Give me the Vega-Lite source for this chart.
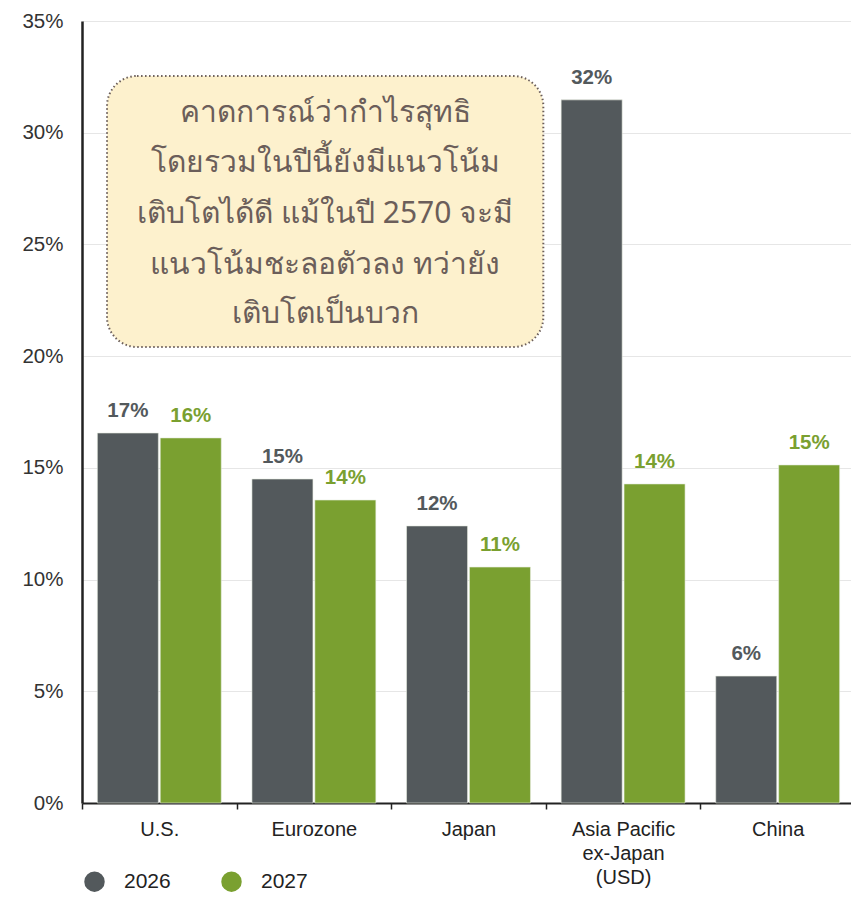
{
  "$schema": "https://vega.github.io/schema/vega-lite/v6.json",
  "autosize": {"type": "none"},
  "width": 773,
  "height": 782,
  "padding": {"left": 82, "top": 21, "right": 0, "bottom": 98},
  "background": "white",
  "config": {"view": {"stroke": null}, "font": "Liberation Sans"},
  "datasets": {
    "bars": [
      {"region": "U.S.", "year": "2026", "value": 16.56, "label": "17%"},
      {"region": "U.S.", "year": "2027", "value": 16.34, "label": "16%"},
      {"region": "Eurozone", "year": "2026", "value": 14.5, "label": "15%"},
      {"region": "Eurozone", "year": "2027", "value": 13.56, "label": "14%"},
      {"region": "Japan", "year": "2026", "value": 12.4, "label": "12%"},
      {"region": "Japan", "year": "2027", "value": 10.56, "label": "11%"},
      {"region": "Asia Pacific|ex-Japan|(USD)", "year": "2026", "value": 31.47, "label": "32%"},
      {"region": "Asia Pacific|ex-Japan|(USD)", "year": "2027", "value": 14.28, "label": "14%"},
      {"region": "China", "year": "2026", "value": 5.68, "label": "6%"},
      {"region": "China", "year": "2027", "value": 15.13, "label": "15%"}
    ],
    "box": [{"x1": 0.162, "x2": 2.984, "y1": 20.41, "y2": 32.54}],
    "lines": [
      {"xc": 1.573, "y": 30.89, "t": "คาดการณ์ว่ากำไรสุทธิ"},
      {"xc": 1.573, "y": 28.65, "t": "โดยรวมในปีนี้ยังมีแนวโน้ม"},
      {"xc": 1.573, "y": 26.37, "t": "เติบโตได้ดี แม้ในปี 2570 จะมี"},
      {"xc": 1.573, "y": 24.08, "t": "แนวโน้มชะลอตัวลง ทว่ายัง"},
      {"xc": 1.573, "y": 21.89, "t": "เติบโตเป็นบวก"}
    ]
  },
  "layer": [
    {
      "data": {"name": "bars"},
      "layer": [
        {
          "mark": {"type": "bar", "stroke": "#e8ece0", "strokeWidth": 0.6},
          "encoding": {
            "x": {
              "field": "region", "type": "nominal", "sort": null,
              "scale": {"paddingInner": 0, "paddingOuter": 0},
              "axis": {
                "title": null, "labelAngle": 0, "tickBand": "extent",
                "labelExpr": "split(datum.label, '|')",
                "labelFontSize": 20, "labelColor": "#222222", "labelLineHeight": 24,
                "labelPadding": 10, "tickSize": 6, "tickColor": "#222222", "tickWidth": 1.5,
                "domainColor": "#222222", "domainWidth": 2, "labelBaseline": "top"
              }
            },
            "xOffset": {"field": "year", "type": "nominal", "scale": {"paddingInner": 0.03, "paddingOuter": 0.244}},
            "y": {
              "field": "value", "type": "quantitative",
              "scale": {"domain": [0, 35], "nice": false},
              "axis": {
                "title": null, "values": [0, 5, 10, 15, 20, 25, 30, 35],
                "labelExpr": "datum.value + '%'", "labelFontSize": 20.5, "labelColor": "#333333",
                "labelPadding": 19, "ticks": false, "domainColor": "#222222", "domainWidth": 2.5,
                "gridColor": "#e6e6e6", "gridWidth": 1.2
              }
            },
            "color": {
              "field": "year", "type": "nominal",
              "scale": {"domain": ["2026", "2027"], "range": ["#53595c", "#7aa030"]},
              "legend": {
                "title": null, "orient": "none", "legendX": 2, "legendY": 850,
                "direction": "horizontal", "symbolType": "circle", "symbolSize": 420,
                "symbolStrokeWidth": 0, "labelFontSize": 21, "labelColor": "#222222",
                "columnPadding": 50, "labelOffset": 19
              }
            }
          }
        },
        {
          "mark": {"type": "text", "fontSize": 20.5, "fontWeight": "bold", "baseline": "bottom", "dy": -12},
          "encoding": {
            "x": {"field": "region", "type": "nominal", "sort": null},
            "xOffset": {"field": "year", "type": "nominal"},
            "y": {"field": "value", "type": "quantitative"},
            "text": {"field": "label"},
            "color": {"field": "year", "type": "nominal", "scale": {"domain": ["2026", "2027"], "range": ["#6a6e71", "#7aa030"]}, "legend": null}
          }
        }
      ]
    },
    {
      "data": {"name": "box"},
      "mark": {"type": "rect", "fill": "#fdf1cd", "stroke": "#6b5e5a", "strokeWidth": 2, "strokeDash": [1.5, 2.5], "cornerRadius": 30},
      "encoding": {
        "x": {"field": "x1", "type": "quantitative", "scale": {"domain": [0, 5], "nice": false}, "axis": null},
        "x2": {"field": "x2"},
        "y": {"field": "y1", "type": "quantitative"},
        "y2": {"field": "y2"}
      }
    },
    {
      "data": {"name": "lines"},
      "mark": {"type": "text", "fontSize": 30, "color": "#6b5e5a", "align": "center", "baseline": "middle", "font": "Noto Sans"},
      "encoding": {
        "x": {"field": "xc", "type": "quantitative", "scale": {"domain": [0, 5], "nice": false}, "axis": null},
        "y": {"field": "y", "type": "quantitative"},
        "text": {"field": "t"}
      }
    }
  ],
  "resolve": {"scale": {"x": "independent", "color": "independent"}}
}
